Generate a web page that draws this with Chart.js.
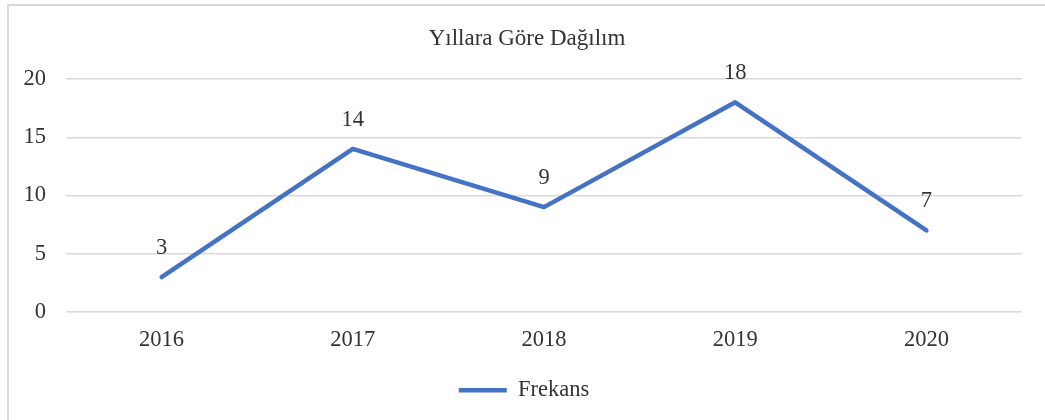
<!DOCTYPE html>
<html>
<head>
<meta charset="utf-8">
<script src="https://cdn.jsdelivr.net/npm/chart.js@4/dist/chart.umd.min.js"></script>
<style>
html,body{margin:0;padding:0;background:#fff;overflow:hidden;}
#frame{position:absolute;left:7px;top:4px;width:1060px;height:440px;border:2px solid #d9d9d9;box-sizing:border-box;}
#wrap{position:absolute;left:0;top:0;width:1045px;height:420px;}
</style>
</head>
<body>
<div id="frame"></div>
<div id="wrap"><canvas id="c" width="1045" height="420"></canvas></div>
<script>
const categories = ['2016','2017','2018','2019','2020'];
const frekans = [3, 14, 9, 18, 7];
const seriesName = 'Frekans';
const chartTitle = 'Yıllara Göre Dağılım';

const FONT = "'Liberation Serif', 'Times New Roman', serif";
const TEXT = '#333333';
const FS = 22.5;

const valueLabels = {
  id: 'valueLabels',
  afterDatasetsDraw(chart) {
    const ctx = chart.ctx;
    const meta = chart.getDatasetMeta(0);
    ctx.save();
    ctx.font = FS + 'px ' + FONT;
    ctx.fillStyle = TEXT;
    ctx.textAlign = 'center';
    ctx.textBaseline = 'middle';
    meta.data.forEach((pt, i) => {
      ctx.fillText(String(chart.data.datasets[0].data[i]), pt.x, pt.y - 29);
    });
    ctx.restore();
  }
};

const shiftBoxes = {
  id: 'shiftBoxes',
  afterLayout(chart) {
    if (chart.legend) { chart.legend.left += 13; chart.legend.right += 13; }
    if (chart.titleBlock) { chart.titleBlock.left += 16; chart.titleBlock.right += 16; }
  }
};

new Chart(document.getElementById('c'), {
  type: 'line',
  data: {
    labels: categories,
    datasets: [{
      label: seriesName,
      data: frekans,
      borderColor: '#4472C4',
      backgroundColor: '#4472C4',
      borderWidth: 4.5,
      borderCapStyle: 'round',
      borderJoinStyle: 'round',
      pointRadius: 0,
      pointHoverRadius: 0,
      tension: 0,
      fill: false
    }]
  },
  options: {
    responsive: false,
    animation: false,
    layout: { padding: { left: 0, right: 23, top: 0, bottom: 8.5 } },
    plugins: {
      title: {
        display: true,
        text: chartTitle,
        color: TEXT,
        font: { family: FONT, size: 23, weight: 'normal' },
        padding: { top: 25, bottom: 26.4 }
      },
      legend: {
        display: true,
        position: 'bottom',
        labels: {
          color: TEXT,
          font: { family: FONT, size: FS },
          usePointStyle: true,
          pointStyle: 'line',
          pointStyleWidth: 48,
          padding: 10
        }
      },
      tooltip: { enabled: false }
    },
    scales: {
      x: {
        offset: true,
        grid: { display: false, drawTicks: false },
        border: { display: false },
        ticks: { color: TEXT, font: { family: FONT, size: FS }, padding: 15, maxRotation: 0 },
        afterFit(scale) { scale.height = 57; }
      },
      y: {
        min: 0, max: 20,
        ticks: { stepSize: 5, color: TEXT, font: { family: FONT, size: FS }, padding: 20 },
        grid: { color: '#d9d9d9', lineWidth: 1.5, drawTicks: false },
        border: { display: false },
        afterFit(scale) { scale.width = 66; }
      }
    }
  },
  plugins: [valueLabels, shiftBoxes]
});
</script>
</body>
</html>
